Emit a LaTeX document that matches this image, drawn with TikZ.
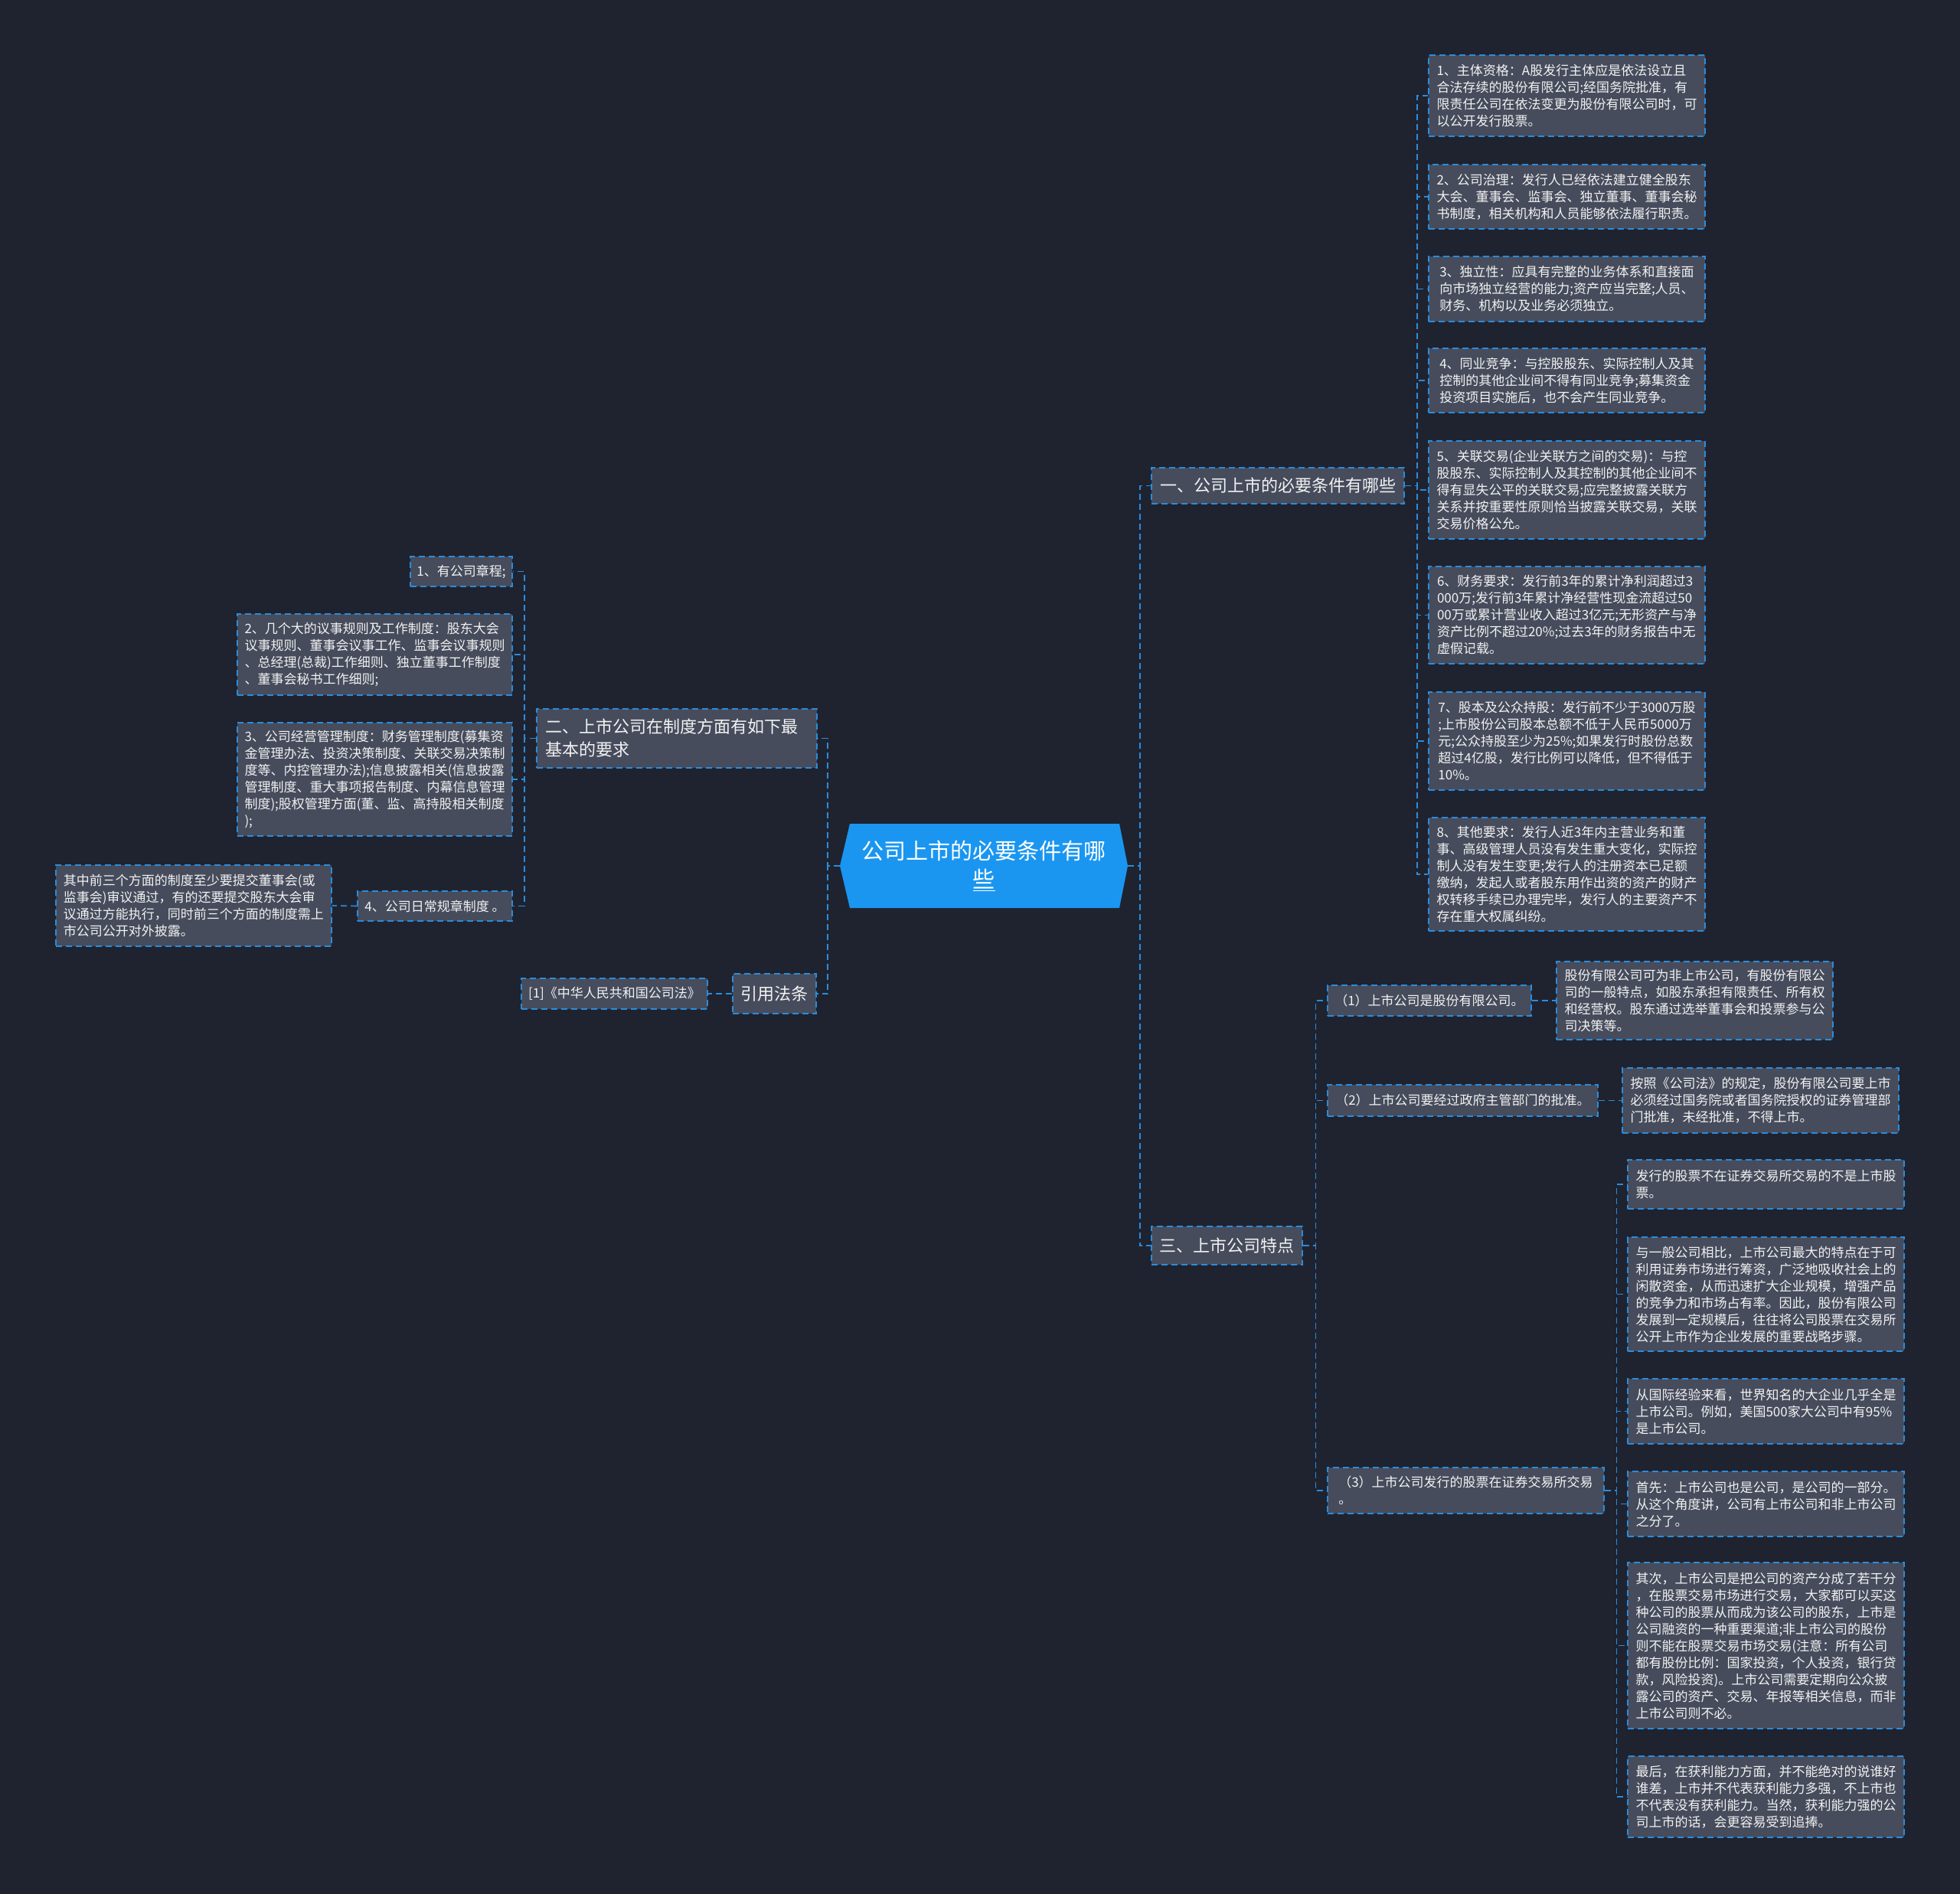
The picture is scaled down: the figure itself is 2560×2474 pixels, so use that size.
\documentclass[tikz,border=0pt]{standalone}
\usepackage{fontspec}
\setmainfont{Noto Sans CJK SC}
\definecolor{bgc}{HTML}{1F2330}
\definecolor{boxbg}{HTML}{464C5C}
\definecolor{bdr}{HTML}{2A8CDC}
\definecolor{rootc}{HTML}{1A96F0}
\definecolor{txt}{HTML}{F2F2F2}
\def\spreadloop#1{\ifx#1\relax\else\hfil#1\expandafter\spreadloop\fi}
\def\spreadtext#1#2\relax{#1\spreadloop#2\relax}
\tikzset{
  base/.style={draw=bdr, dash pattern=on 4pt off 2.5pt, line width=0.8pt, fill=boxbg, text=txt, inner xsep=3pt, inner ysep=2pt, align=left},
  leaf/.style={base, font=\fontsize{8.5}{11}\selectfont},
  head/.style={base, font=\fontsize{11}{13}\selectfont, inner xsep=4pt},
  conn/.style={draw=bdr, dash pattern=on 4pt off 2.5pt, line width=0.8pt},
}
\begin{document}
\begin{tikzpicture}[x=0.5pt,y=-0.5pt]
\useasboundingbox (0,0) rectangle (2560,2474);
\fill[bgc] (0,0) rectangle (2560,2474);

% root
\fill[rootc] (1110,1076) -- (1462,1076) -- (1473,1131) -- (1462,1186) -- (1110,1186) -- (1097,1131) -- cycle;
\node[minimum width=188pt, minimum height=55pt, inner sep=0pt, align=center, text=white, font=\fontsize{14.5}{18.5}\selectfont] (root) at (1285,1131) {公司上市的必要条件有哪\\\underline{些}};

% right branch one
\node[head, minimum width=165pt, minimum height=23.5pt] (h1) at (1669,634.5) {一、公司上市的必要条件有哪些};
\node[leaf, minimum width=180.5pt, minimum height=53pt] (b1) at (2046.5,125) {1、主体资格：A股发行主体应是依法设立且\\合法存续的股份有限公司;经国务院批准，有\\限责任公司在依法变更为股份有限公司时，可\\以公开发行股票。};
\node[leaf, minimum width=180.5pt, minimum height=42pt] (b2) at (2046.5,257) {2、公司治理：发行人已经依法建立健全股东\\大会、董事会、监事会、独立董事、董事会秘\\书制度，相关机构和人员能够依法履行职责。};
\node[leaf, minimum width=180.5pt, minimum height=42.5pt] (b3) at (2046.5,377.5) {3、独立性：应具有完整的业务体系和直接面\\向市场独立经营的能力;资产应当完整;人员、\\财务、机构以及业务必须独立。};
\node[leaf, minimum width=180.5pt, minimum height=42pt] (b4) at (2046.5,497) {4、同业竞争：与控股股东、实际控制人及其\\控制的其他企业间不得有同业竞争;募集资金\\投资项目实施后，也不会产生同业竞争。};
\node[leaf, minimum width=180.5pt, minimum height=64pt] (b5) at (2046.5,640) {5、关联交易(企业关联方之间的交易)：与控\\股股东、实际控制人及其控制的其他企业间不\\得有显失公平的关联交易;应完整披露关联方\\关系并按重要性原则恰当披露关联交易，关联\\交易价格公允。};
\node[leaf, minimum width=180.5pt, minimum height=63.5pt] (b6) at (2046.5,803.5) {6、财务要求：发行前3年的累计净利润超过3\\000万;发行前3年累计净经营性现金流超过50\\00万或累计营业收入超过3亿元;无形资产与净\\资产比例不超过20\%;过去3年的财务报告中无\\虚假记载。};
\node[leaf, minimum width=180.5pt, minimum height=64pt] (b7) at (2046.5,968) {7、股本及公众持股：发行前不少于3000万股\\;上市股份公司股本总额不低于人民币5000万\\元;公众持股至少为25\%;如果发行时股份总数\\超过4亿股，发行比例可以降低，但不得低于\\10\%。};
\node[leaf, minimum width=180.5pt, minimum height=74pt] (b8) at (2046.5,1142) {8、其他要求：发行人近3年内主营业务和董\\事、高级管理人员没有发生重大变化，实际控\\制人没有发生变更;发行人的注册资本已足额\\缴纳，发起人或者股东用作出资的资产的财产\\权转移手续已办理完毕，发行人的主要资产不\\存在重大权属纠纷。};

% right branch three
\node[head, minimum width=98.5pt, minimum height=25pt] (h3) at (1602.5,1627) {三、上市公司特点};
\node[leaf, minimum width=133pt, minimum height=20pt] (n1) at (1867,1307) {（1）上市公司是股份有限公司。};
\node[leaf, minimum width=180.5pt, minimum height=51pt] (n1c) at (2213.5,1307) {股份有限公司可为非上市公司，有股份有限公\\司的一般特点，如股东承担有限责任、所有权\\和经营权。股东通过选举董事会和投票参与公\\司决策等。};
\node[leaf, minimum width=176.5pt, minimum height=20.5pt] (n2) at (1910.5,1437.5) {（2）上市公司要经过政府主管部门的批准。};
\node[leaf, minimum width=180.5pt, minimum height=42.5pt] (n2c) at (2299.5,1437.5) {按照《公司法》的规定，股份有限公司要上市\\必须经过国务院或者国务院授权的证券管理部\\门批准，未经批准，不得上市。};
\node[leaf, minimum width=180.5pt, minimum height=30pt] (n3) at (1914.5,1947) {（3）上市公司发行的股票在证券交易所交易\\。};
\node[leaf, minimum width=180.5pt, minimum height=32pt] (c1) at (2306.5,1547) {发行的股票不在证券交易所交易的不是上市股\\票。};
\node[leaf, minimum width=180.5pt, minimum height=74.5pt] (c2) at (2306.5,1690.5) {与一般公司相比，上市公司最大的特点在于可\\利用证券市场进行筹资，广泛地吸收社会上的\\闲散资金，从而迅速扩大企业规模，增强产品\\的竞争力和市场占有率。因此，股份有限公司\\发展到一定规模后，往往将公司股票在交易所\\公开上市作为企业发展的重要战略步骤。};
\node[leaf, minimum width=180.5pt, minimum height=42.5pt] (c3) at (2306.5,1843.5) {从国际经验来看，世界知名的大企业几乎全是\\上市公司。例如，美国500家大公司中有95\%\\是上市公司。};
\node[leaf, minimum width=180.5pt, minimum height=42.5pt] (c4) at (2306.5,1964.5) {首先：上市公司也是公司，是公司的一部分。\\从这个角度讲，公司有上市公司和非上市公司\\之分了。};
\node[leaf, minimum width=180.5pt, minimum height=108.5pt] (c5) at (2306.5,2149.5) {其次，上市公司是把公司的资产分成了若干分\\，在股票交易市场进行交易，大家都可以买这\\种公司的股票从而成为该公司的股东，上市是\\公司融资的一种重要渠道;非上市公司的股份\\则不能在股票交易市场交易(注意：所有公司\\都有股份比例：国家投资，个人投资，银行贷\\款，风险投资)。上市公司需要定期向公众披\\露公司的资产、交易、年报等相关信息，而非\\上市公司则不必。};
\node[leaf, minimum width=180.5pt, minimum height=53pt] (c6) at (2306.5,2347) {最后，在获利能力方面，并不能绝对的说谁好\\谁差，上市并不代表获利能力多强，不上市也\\不代表没有获利能力。当然，获利能力强的公\\司上市的话，会更容易受到追捧。};

% left branch two
\node[base, font=\fontsize{11}{15}\selectfont, minimum width=183pt, minimum height=38.5pt] (h2) at (884,964.5) {\makebox[172pt][l]{\makebox[165pt][s]{\spreadtext 二、上市公司在制度方面有如下最\relax}}\\基本的要求};
\node[leaf, minimum width=66.5pt, minimum height=19.5pt] (l1) at (602.5,746.5) {1、有公司章程;};
\node[leaf, minimum width=179.5pt, minimum height=53pt] (l2) at (489.5,855) {2、几个大的议事规则及工作制度：股东大会\\议事规则、董事会议事工作、监事会议事规则\\、总经理(总裁)工作细则、独立董事工作制度\\、董事会秘书工作细则;};
\node[leaf, minimum width=179.5pt, minimum height=74pt] (l3) at (489.5,1018) {3、公司经营管理制度：财务管理制度(募集资\\金管理办法、投资决策制度、关联交易决策制\\度等、内控管理办法);信息披露相关(信息披露\\管理制度、重大事项报告制度、内幕信息管理\\制度);股权管理方面(董、监、高持股相关制度\\);};
\node[leaf, inner xsep=2pt, minimum width=101pt, minimum height=19.5pt] (l4) at (568,1183.5) {4、公司日常规章制度 。};
\node[leaf, minimum width=180pt, minimum height=53pt] (l4c) at (253,1183) {其中前三个方面的制度至少要提交董事会(或\\监事会)审议通过，有的还要提交股东大会审\\议通过方能执行，同时前三个方面的制度需上\\市公司公开对外披露。};

% citation
\node[head, minimum width=54.5pt, minimum height=26pt] (cite) at (1011.5,1298) {引用法条};
\node[leaf, inner xsep=2pt, minimum width=121.5pt, minimum height=20pt] (citec) at (802.5,1298) {[1]《中华人民共和国公司法》};

% connectors
\foreach \t in {h1,h3} \draw[conn] (root.east) -- ++(7.75pt,0) |- (\t.west);
\foreach \t in {h2,cite} \draw[conn] (root.west) -- ++(-7.75pt,0) |- (\t.east);
\foreach \t in {b1,b2,b3,b4,b5,b6,b7,b8} \draw[conn] (h1.east) -- ++(8pt,0) |- (\t.west);
\foreach \t in {n1,n2,n3} \draw[conn] (h3.east) -- ++(8.25pt,0) |- (\t.west);
\draw[conn] (n1.east) -- (n1c.west);
\draw[conn] (n2.east) -- (n2c.west);
\foreach \t in {c1,c2,c3,c4,c5,c6} \draw[conn] (n3.east) -- ++(7.75pt,0) |- (\t.west);
\foreach \t in {l1,l2,l3,l4} \draw[conn] (h2.west) -- ++(-7.75pt,0) |- (\t.east);
\draw[conn] (l4.west) -- (l4c.east);
\draw[conn] (cite.west) -- (citec.east);
\end{tikzpicture}
\end{document}
